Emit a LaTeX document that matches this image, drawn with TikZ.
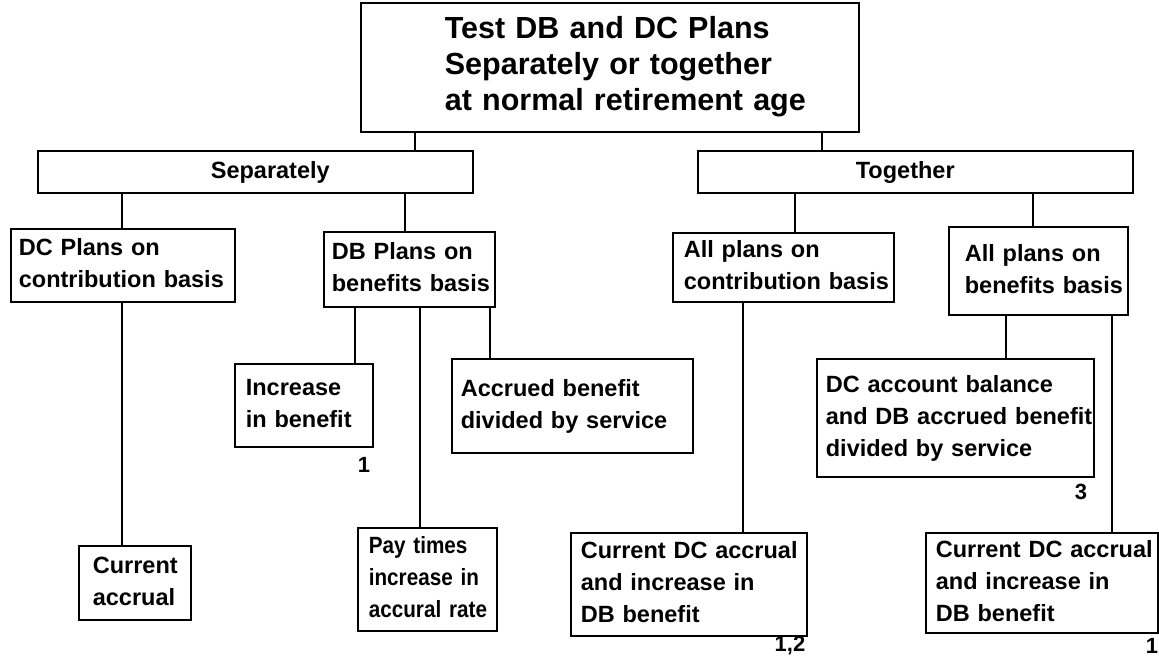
\documentclass[tikz,border=0pt]{standalone}
\usepackage{fontspec}
\setmainfont{Liberation Sans}
\newfontfamily\narrowfont[FakeStretch=0.88]{Liberation Sans}
\newcommand{\tb}[1]{\begin{tabular}{@{}l@{}}#1\end{tabular}}
\begin{document}
\begin{tikzpicture}[x=1pt,y=-1pt,
  box/.style={draw, line width=1.7pt, rectangle, anchor=north west, align=left,
    inner ysep=0pt, font=\fontsize{23.5}{32}\selectfont\bfseries},
  conn/.style={line width=1.7pt},
  note/.style={font=\fontsize{22}{26}\selectfont\bfseries, inner sep=0pt}
]
\useasboundingbox (0,0) rectangle (1159,658);

\node[box, inner xsep=84pt, text width=330pt, minimum height=129pt,
  font=\fontsize{30.5}{36}\selectfont\bfseries] (top) at (360,2)
  {\tb{Test DB and DC Plans\\Separately or together\\at normal retirement age}};

\node[box, inner xsep=173pt, text width=89pt, minimum height=42pt] (sep) at (37,150) {\tb{Separately}};
\node[box, inner xsep=158pt, text width=119pt, minimum height=42pt] (tog) at (697,150) {\tb{Together}};

\node[box, inner xsep=8pt, text width=208pt, minimum height=73pt] (dcp) at (10,228) {\tb{DC Plans on\\contribution basis}};
\node[box, inner xsep=8pt, text width=155pt, minimum height=75pt] (dbp) at (323,231) {\tb{DB Plans on\\benefits basis}};
\node[box, inner xsep=11pt, text width=199pt, minimum height=69pt] (apc) at (672,232) {\tb{All plans on\\contribution basis}};
\node[box, inner xsep=16pt, text width=147pt, minimum height=88pt] (apb) at (948,226) {\tb{All plans on\\benefits basis}};

\node[box, inner xsep=14pt, text width=84pt, minimum height=74pt] (cur) at (78,545) {\tb{Current\\accrual}};
\node[box, inner xsep=11pt, text width=116pt, minimum height=83pt] (inc) at (234,363) {\tb{Increase\\in benefit}};
\node[box, inner xsep=11pt, text width=117pt, minimum height=103pt,
  font=\fontsize{23.5}{32}\narrowfont\bfseries] (pay) at (357,527) {\tb{Pay times\\increase in\\accural rate}};
\node[box, inner xsep=9pt, text width=223pt, minimum height=94pt] (acc) at (451,358) {\tb{Accrued benefit\\divided by service}};
\node[box, inner xsep=9pt, text width=259pt, minimum height=118pt] (dca) at (816,358) {\tb{DC account balance\\and DB accrued benefit\\divided by service}};
\node[box, inner xsep=10pt, text width=216pt, minimum height=103pt] (cdca) at (570,532) {\tb{Current DC accrual\\and increase in\\DB benefit}};
\node[box, inner xsep=10pt, text width=212pt, minimum height=100pt] (cdcb) at (925,532) {\tb{Current DC accrual\\and increase in\\DB benefit}};

\node[note] (n1) at (364,465) {1};
\node[note] (n12) at (790,646) {1,2};
\node[note] (n3) at (1081,492) {3};
\node[note] (n1b) at (1152,646) {1};

\draw[conn] (top.south -| 415,0) -- (sep.north -| 415,0);
\draw[conn] (top.south -| 822,0) -- (tog.north -| 822,0);
\draw[conn] (sep.south -| 122,0) -- (dcp.north -| 122,0);
\draw[conn] (sep.south -| 405,0) -- (dbp.north -| 405,0);
\draw[conn] (tog.south -| 795,0) -- (apc.north -| 795,0);
\draw[conn] (tog.south -| 1033,0) -- (apb.north -| 1033,0);
\draw[conn] (dcp.south -| 122,0) -- (cur.north -| 122,0);
\draw[conn] (dbp.south -| 355,0) -- (inc.north -| 355,0);
\draw[conn] (dbp.south -| 420,0) -- (pay.north -| 420,0);
\draw[conn] (dbp.south -| 490,0) -- (acc.north -| 490,0);
\draw[conn] (apc.south -| 743,0) -- (cdca.north -| 743,0);
\draw[conn] (apb.south -| 1006,0) -- (dca.north -| 1006,0);
\draw[conn] (apb.south -| 1112,0) -- (cdcb.north -| 1112,0);
\end{tikzpicture}
\end{document}
